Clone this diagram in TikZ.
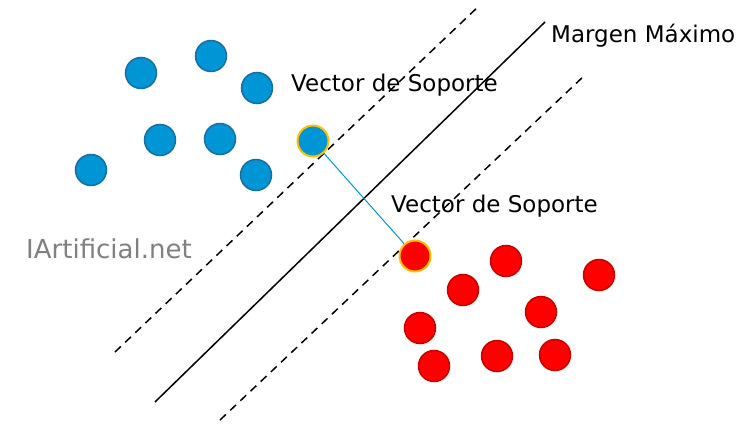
\documentclass[tikz,border=0pt]{standalone}
\usepackage{fontspec}
\setmainfont{DejaVu Sans}
\definecolor{bluefill}{RGB}{0,150,214}
\definecolor{blueedge}{RGB}{23,110,160}
\definecolor{redfill}{RGB}{255,0,0}
\definecolor{rededge}{RGB}{200,0,0}
\definecolor{svedge}{RGB}{255,192,0}
\definecolor{wmgray}{RGB}{128,128,128}
\begin{document}
\begin{tikzpicture}[x=1pt,y=-1pt,
  bdot/.style={circle,minimum size=31pt,inner sep=0pt,fill=bluefill,draw=blueedge,line width=1.5pt},
  rdot/.style={circle,minimum size=31pt,inner sep=0pt,fill=redfill,draw=rededge,line width=1.5pt},
  bsv/.style={bdot,draw=svedge,line width=2pt},
  rsv/.style={rdot,draw=svedge,line width=2pt},
  hyper/.style={line width=1.5pt,black},
  marg/.style={line width=1.5pt,black,dash pattern=on 8pt off 6pt},
  lbl/.style={font=\fontsize{23}{27}\selectfont,inner sep=0pt,anchor=base west}]
\useasboundingbox (0,0) rectangle (752,436);
% lines
\coordinate (s1) at (155,402); \coordinate (s2) at (545,22);
\coordinate (u1) at (115,352); \coordinate (u2) at (480,5);
\coordinate (l1) at (220,420); \coordinate (l2) at (585,75);
\draw[hyper] (s1) -- (s2);
\draw[marg] (u1) -- (u2);
\draw[marg] (l1) -- (l2);
% blue points
\node[bdot] (b1) at (141,73) {};
\node[bdot] (b2) at (211,56) {};
\node[bdot] (b3) at (257,88) {};
\node[bdot] (b4) at (160,140) {};
\node[bdot] (b5) at (220,139) {};
\node[bdot] (b6) at (91,170) {};
\node[bdot] (b7) at (256,175) {};
% red points
\node[rdot] (r1) at (506,261) {};
\node[rdot] (r2) at (599,275) {};
\node[rdot] (r3) at (463,290) {};
\node[rdot] (r4) at (541,312) {};
\node[rdot] (r5) at (420,328) {};
\node[rdot] (r6) at (497,356) {};
\node[rdot] (r7) at (555,355) {};
\node[rdot] (r8) at (434,366) {};
% support vectors
\node[bsv] (bs) at (313,141) {};
\node[rsv] (rs) at (415,256) {};
\draw[bluefill,line width=1pt] (bs) -- (rs);
% labels
\node[lbl] (tm) at (551,43) {Margen Máximo};
\node[lbl] (tv1) at (291,92) {Vector de Soporte};
\node[lbl] (tv2) at (391,212) {Vector de Soporte};
\node[lbl,wmgray,font=\fontsize{26}{30}\selectfont] (tw) at (26,258) {IArtificial.net};
\end{tikzpicture}
\end{document}
